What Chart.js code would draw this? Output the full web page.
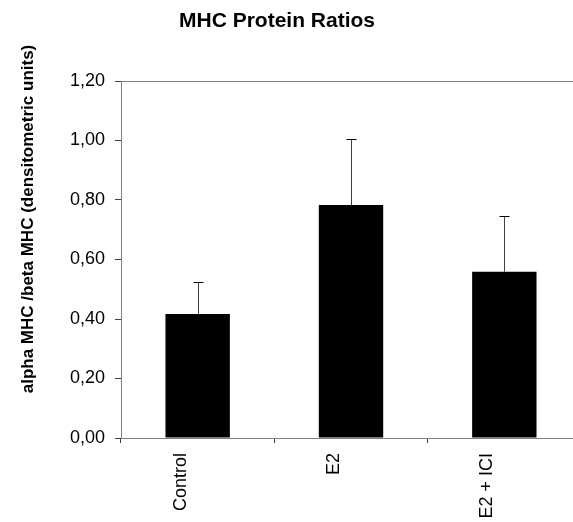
<!DOCTYPE html>
<html>
<head>
<meta charset="utf-8">
<script src="https://cdn.jsdelivr.net/npm/chart.js@4.4.0/dist/chart.umd.min.js"></script>
<style>
  html, body { margin: 0; padding: 0; background: #fff; overflow: hidden; }
  canvas { display: block; }
</style>
</head>
<body>
<canvas id="myChart" width="587" height="522" style="width:587px;height:522px"></canvas>
<script>
// data
const groups = ['Control', 'E2', 'E2 + ICI'];
const ratios = [0.417, 0.783, 0.559];
const errUp = [0.106, 0.221, 0.188];
const yTicks = [0, 0.2, 0.4, 0.6, 0.8, 1.0, 1.2];

const chartTitle = 'MHC Protein Ratios';
const yTitle = 'alpha MHC /beta MHC (densitometric units)';

const ctx = document.getElementById('myChart');

// upper error bars, drawn from the y scale
const errorBars = {
    id: 'errorBars',
    afterDatasetsDraw(chart) {
        const c = chart.ctx;
        const y = chart.scales.y;
        const meta = chart.getDatasetMeta(0);
        c.save();
        meta.data.forEach((bar, i) => {
            const y1 = y.getPixelForValue(ratios[i]);
            const y2 = y.getPixelForValue(ratios[i] + errUp[i]);
            const x = Math.round(bar.x) + 0.5;
            c.strokeStyle = '#404040';
            c.lineWidth = 1;
            c.beginPath();
            c.moveTo(x, y1);
            c.lineTo(x, Math.round(y2) + 0.5);
            c.stroke();
            c.strokeStyle = '#000';
            c.beginPath();
            c.moveTo(x - 5, Math.round(y2) + 0.5);
            c.lineTo(x + 5, Math.round(y2) + 0.5);
            c.stroke();
        });
        c.restore();
    }
};

// title and y label sit where the original put them, not where chart.js centers them
const texts = {
    id: 'texts',
    afterDraw(chart) {
        const c = chart.ctx;
        c.save();
        c.fillStyle = '#000';
        c.font = 'bold 21px "Liberation Sans", Arial, sans-serif';
        c.textAlign = 'center';
        c.textBaseline = 'alphabetic';
        c.fillText(chartTitle, 277, 27);
        c.font = 'bold 17px "Liberation Sans", Arial, sans-serif';
        c.translate(32.5, 219);
        c.rotate(-Math.PI / 2);
        c.fillText(yTitle, 0, 0);
        c.restore();
    }
};

const chart = new Chart(ctx, {
    type: 'bar',
    data: {
        labels: groups,
        datasets: [{
            data: ratios,
            backgroundColor: '#000',
            borderWidth: 0,
            barPercentage: 0.42,
            categoryPercentage: 1
        }]
    },
    options: {
        responsive: false,
        animation: false,
        layout: { padding: { top: 81, right: 6, left: 0, bottom: 0 } },
        plugins: {
            legend: { display: false },
            tooltip: { enabled: false },
            title: { display: false }
        },
        scales: {
            x: {
                grid: { offset: true, drawOnChartArea: false, tickLength: 5, tickColor: '#404040' },
                border: { color: '#808080', width: 1 },
                ticks: {
                    minRotation: 90, maxRotation: 90, padding: 10, labelOffset: -17,
                    color: '#000',
                    font: { family: '"Liberation Sans", Arial, sans-serif', size: 18 }
                },
                afterFit(scale) { scale.height = 84; }
            },
            y: {
                min: 0,
                max: 1.2,
                afterBuildTicks(scale) { scale.ticks = yTicks.map(v => ({ value: v })); },
                grid: {
                    color: c => (c.tick && c.tick.value === 1.2) ? '#808080' : 'rgba(0,0,0,0)',
                    tickColor: '#404040',
                    tickLength: 6
                },
                border: { color: '#808080', width: 1 },
                ticks: {
                    padding: 10,
                    color: '#000',
                    font: { family: '"Liberation Sans", Arial, sans-serif', size: 18 },
                    callback: v => v.toFixed(2).replace('.', ',')
                },
                afterFit(scale) { scale.width = 121; }
            }
        }
    },
    plugins: [errorBars, texts]
});
</script>
</body>
</html>
